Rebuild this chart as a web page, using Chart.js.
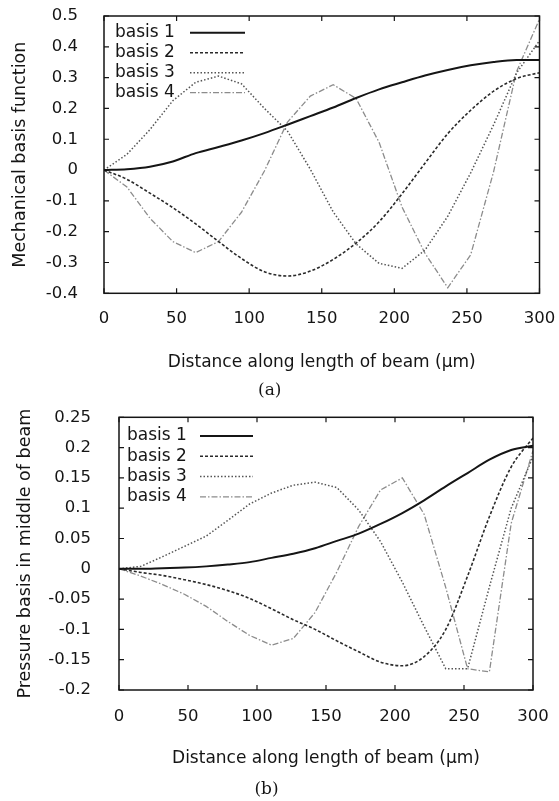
<!DOCTYPE html>
<html>
<head>
<meta charset="utf-8">
<script src="https://cdn.jsdelivr.net/npm/chart.js@4.4.1/dist/chart.umd.min.js"></script>
<style>
  html, body { margin: 0; padding: 0; background: #fff; }
  #wrap { position: relative; width: 559px; height: 801px; }
  canvas { position: absolute; left: 0; }
  #chartA { top: 0; }
  #chartB { top: 400px; }
</style>
</head>
<body>
<div id="wrap">
  <canvas id="chartA" width="559" height="400"></canvas>
  <canvas id="chartB" width="559" height="401"></canvas>
</div>
<script>
// Node positions along the beam (µm)
const xPos = [0, 15.8, 31.6, 47.4, 63.2, 78.9, 94.7, 110.5, 126.3, 142.1,
              157.9, 173.7, 189.5, 205.3, 221.1, 236.8, 252.6, 268.4, 284.2, 300];
const seriesNames = ['basis 1', 'basis 2', 'basis 3', 'basis 4'];

// (a) mechanical basis functions
const mechBasis1 = [0, 0.003, 0.011, 0.028, 0.055, 0.075, 0.096, 0.12, 0.147, 0.175,
                    0.203, 0.234, 0.262, 0.285, 0.307, 0.325, 0.34, 0.351, 0.357, 0.357];
const mechBasis2 = [0, -0.03, -0.075, -0.122, -0.175, -0.232, -0.287, -0.33, -0.344, -0.328,
                    -0.29, -0.237, -0.168, -0.077, 0.022, 0.118, 0.194, 0.256, 0.297, 0.316];
const mechBasis3 = [0, 0.051, 0.131, 0.225, 0.285, 0.305, 0.28, 0.2, 0.127, 0.003,
                    -0.136, -0.24, -0.303, -0.319, -0.26, -0.15, -0.009, 0.147, 0.315, 0.42];
const mechBasis4 = [0, -0.055, -0.156, -0.232, -0.268, -0.232, -0.137, -0.003, 0.155, 0.24,
                    0.277, 0.232, 0.09, -0.12, -0.27, -0.382, -0.275, -0.005, 0.32, 0.49];

// (b) pressure basis functions in the middle of the beam
const presBasis1 = [0, 0.0, 0.001, 0.002, 0.004, 0.007, 0.011, 0.018, 0.025, 0.034,
                    0.046, 0.058, 0.074, 0.092, 0.113, 0.136, 0.158, 0.18, 0.196, 0.203];
const presBasis2 = [0, -0.006, -0.011, -0.018, -0.026, -0.036, -0.049, -0.066, -0.084, -0.1,
                    -0.119, -0.137, -0.154, -0.16, -0.145, -0.1, -0.012, 0.086, 0.168, 0.216];
const presBasis3 = [0, 0.004, 0.02, 0.037, 0.054, 0.08, 0.107, 0.125, 0.138, 0.143,
                    0.134, 0.097, 0.045, -0.022, -0.095, -0.165, -0.165, -0.03, 0.1, 0.185];
const presBasis4 = [0, -0.012, -0.026, -0.042, -0.062, -0.087, -0.11, -0.126, -0.115, -0.072,
                    -0.005, 0.07, 0.13, 0.15, 0.09, -0.031, -0.165, -0.17, 0.075, 0.195];

// Tick labels
const xTicks = [0, 50, 100, 150, 200, 250, 300];
const yTicksA = [-0.4, -0.3, -0.2, -0.1, 0, 0.1, 0.2, 0.3, 0.4, 0.5];
const yTicksB = [-0.2, -0.15, -0.1, -0.05, 0, 0.05, 0.1, 0.15, 0.2, 0.25];

const xTitle = 'Distance along length of beam (\u00b5m)';

// gnuplot-like line styles
const styles = [
  { color: '#151515', width: 2.0, dash: [] },
  { color: '#2a2a2a', width: 1.6, dash: [3, 2] },
  { color: '#555555', width: 1.5, dash: [1.5, 2] },
  { color: '#8c8c8c', width: 1.3, dash: [6, 2, 1.5, 2] }
];

const SANS = "'DejaVu Sans', sans-serif";
const SERIF = "'DejaVu Serif', serif";
const INK = '#151515';

// Box frame with inward ticks and a "label then line sample" key
const framePlugin = {
  id: 'frameKey',
  afterDatasetsDraw(chart, args, opts) {
    const { ctx, chartArea: a, scales: { x, y } } = chart;
    ctx.save();
    ctx.strokeStyle = INK;
    ctx.lineWidth = 1.5;
    ctx.setLineDash([]);
    ctx.strokeRect(a.left, a.top, a.right - a.left, a.bottom - a.top);
    ctx.lineWidth = 1.2;
    ctx.beginPath();
    x.ticks.forEach(t => {
      const px = x.getPixelForValue(t.value);
      ctx.moveTo(px, a.bottom); ctx.lineTo(px, a.bottom - 5);
      ctx.moveTo(px, a.top); ctx.lineTo(px, a.top + 5);
    });
    y.ticks.forEach(t => {
      const py = y.getPixelForValue(t.value);
      ctx.moveTo(a.left, py); ctx.lineTo(a.left + 5, py);
      ctx.moveTo(a.right, py); ctx.lineTo(a.right - 5, py);
    });
    ctx.stroke();

    // key
    ctx.font = '17px ' + SANS;
    ctx.textBaseline = 'middle';
    ctx.textAlign = 'left';
    ctx.fillStyle = INK;
    chart.data.datasets.forEach((ds, i) => {
      const cy = a.top + opts.rowTop + i * opts.rowGap;
      ctx.fillText(ds.label, a.left + opts.textLeft, cy);
      ctx.strokeStyle = ds.borderColor;
      ctx.lineWidth = ds.borderWidth;
      ctx.setLineDash(ds.borderDash || []);
      ctx.beginPath();
      ctx.moveTo(a.left + opts.lineStart, cy);
      ctx.lineTo(a.left + opts.lineEnd, cy);
      ctx.stroke();
    });
    ctx.restore();
  }
};

function makeChart(id, series, cfg) {
  const datasets = series.map((vals, i) => ({
    label: seriesNames[i],
    data: xPos.map((xv, k) => ({ x: xv, y: vals[k] })),
    borderColor: styles[i].color,
    borderWidth: styles[i].width,
    borderDash: styles[i].dash,
    pointRadius: 0,
    fill: false,
    tension: i < 2 ? 0.35 : 0,
    cubicInterpolationMode: i < 2 ? 'monotone' : 'default'
  }));

  return new Chart(document.getElementById(id), {
    type: 'line',
    data: { datasets },
    plugins: [framePlugin],
    options: {
      responsive: false,
      animation: false,
      devicePixelRatio: 1,
      layout: { padding: { top: cfg.padTop, right: cfg.padRight, left: 0, bottom: 0 } },
      scales: {
        x: {
          type: 'linear', min: 0, max: 300,
          afterBuildTicks: s => { s.ticks = xTicks.map(v => ({ value: v })); },
          afterFit: s => { s.height = cfg.xHeight; s.paddingLeft = 0; s.paddingRight = 0; },
          grid: { display: false },
          border: { display: false },
          ticks: { font: { family: SANS, size: 16.5 }, color: INK, padding: cfg.xTickPad,
                   maxRotation: 0, callback: v => String(v) },
          title: { display: true, text: xTitle, color: INK,
                   font: { family: SANS, size: 17 }, padding: { top: 0, bottom: cfg.xTitlePad } }
        },
        y: {
          type: 'linear', min: cfg.yMin, max: cfg.yMax,
          afterBuildTicks: s => { s.ticks = cfg.yTicks.map(v => ({ value: v })); },
          afterFit: s => { s.width = cfg.yWidth; s.paddingTop = 0; s.paddingBottom = 0; },
          grid: { display: false },
          border: { display: false },
          ticks: { font: { family: SANS, size: 16.5 }, color: INK, padding: cfg.yTickPad,
                   callback: v => String(+v.toFixed(2)) },
          title: { display: true, text: cfg.yTitle, color: INK,
                   font: { family: SANS, size: 17.5 }, padding: { top: cfg.yTitlePad, bottom: 0 } }
        }
      },
      plugins: {
        legend: { display: false },
        tooltip: { enabled: false },
        title: { display: true, text: cfg.caption, position: 'bottom', color: INK,
                 font: { family: SERIF, size: 17, weight: 'normal' },
                 padding: { top: cfg.capTop, bottom: 4 - cfg.capTop } },
        frameKey: cfg.key
      }
    }
  });
}

makeChart('chartA', [mechBasis1, mechBasis2, mechBasis3, mechBasis4], {
  padTop: 16, padRight: 19.5, xHeight: 82.3, yWidth: 104,
  xTickPad: 7.5, xTitlePad: 3, yTickPad: 18, yTitlePad: 10, capTop: 4.5,
  yMin: -0.4, yMax: 0.5, yTicks: yTicksA,
  yTitle: 'Mechanical basis function', caption: '(a)',
  key: { textLeft: 11, lineStart: 86, lineEnd: 141, rowTop: 16.7, rowGap: 20 }
});

makeChart('chartB', [presBasis1, presBasis2, presBasis3, presBasis4], {
  padTop: 17.3, padRight: 26, xHeight: 86.6, yWidth: 119,
  xTickPad: 9, xTitlePad: 7.4, yTickPad: 20, yTitlePad: 15, capTop: 3,
  yMin: -0.2, yMax: 0.25, yTicks: yTicksB,
  yTitle: 'Pressure basis in middle of beam', caption: '(b)',
  key: { textLeft: 8, lineStart: 81, lineEnd: 134, rowTop: 18.7, rowGap: 20.3 }
});
</script>
</body>
</html>
